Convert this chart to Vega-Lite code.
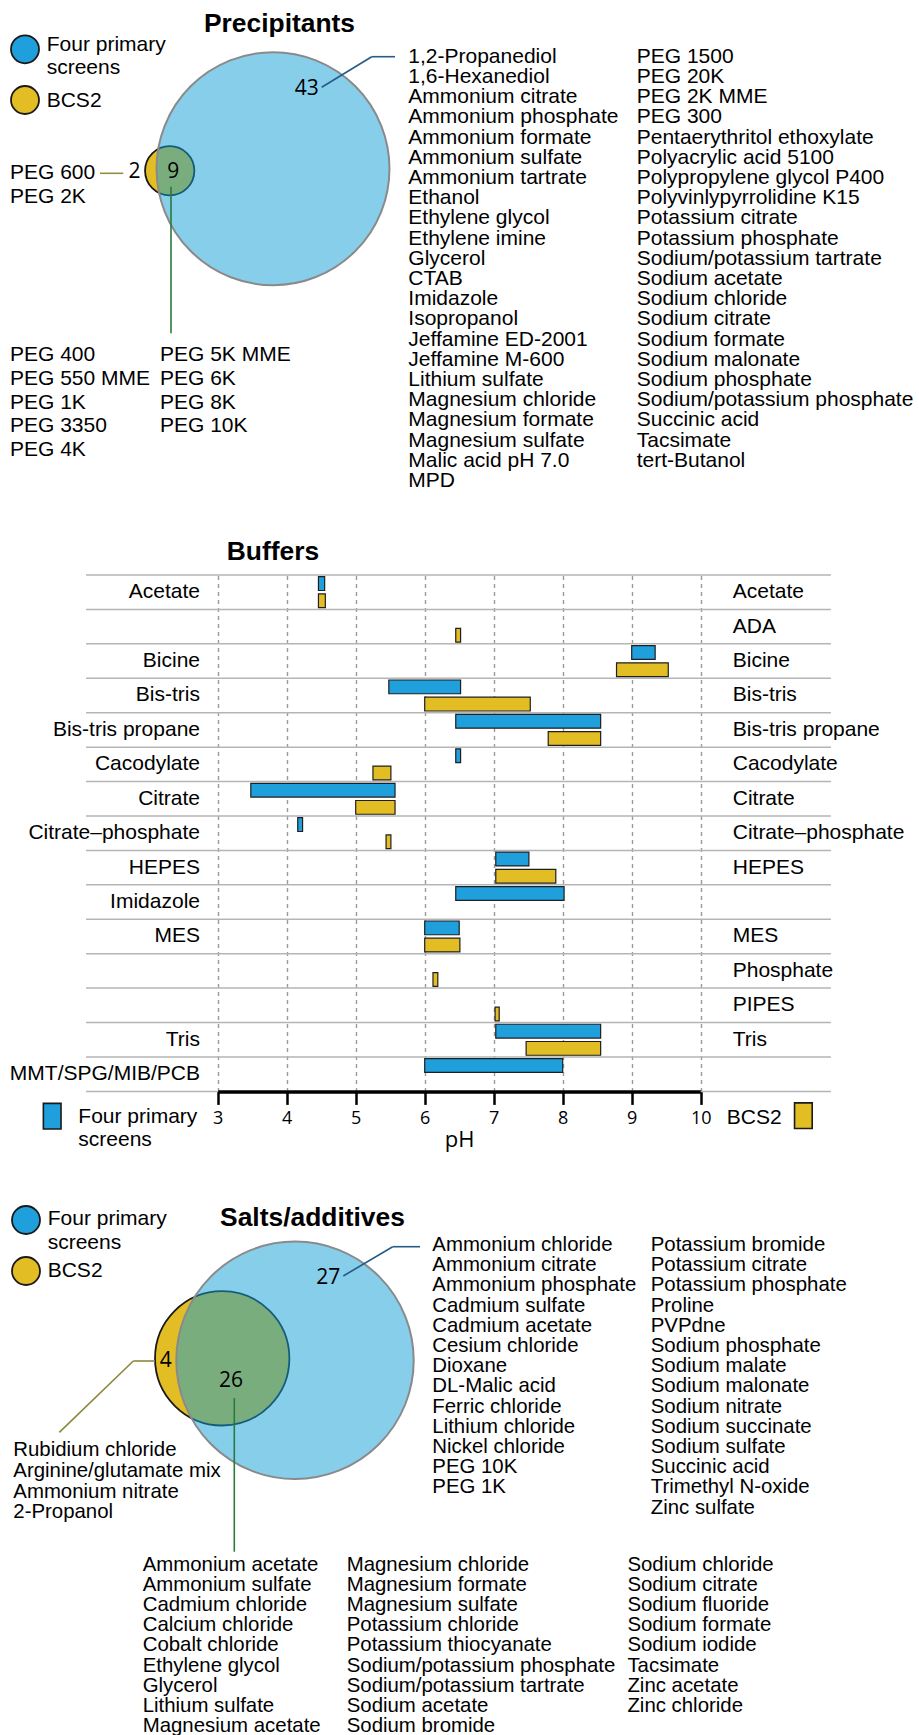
{
  "$schema": "https://vega.github.io/schema/vega-lite/v6.json",
  "padding": 0,
  "spacing": 0,
  "background": "white",
  "config": {"view": {"stroke": null}, "font": "Liberation Sans"},
  "datasets": {
    "sets": [{"set": "Four primary screens"}, {"set": "BCS2"}],
    "precip": [
      {"item": "1,2-Propanediol", "region": "four"}, {"item": "1,6-Hexanediol", "region": "four"}, {"item": "Ammonium citrate", "region": "four"}, {"item": "Ammonium phosphate", "region": "four"}, {"item": "Ammonium formate", "region": "four"}, {"item": "Ammonium sulfate", "region": "four"}, {"item": "Ammonium tartrate", "region": "four"}, {"item": "Ethanol", "region": "four"}, {"item": "Ethylene glycol", "region": "four"}, {"item": "Ethylene imine", "region": "four"}, {"item": "Glycerol", "region": "four"}, {"item": "CTAB", "region": "four"}, {"item": "Imidazole", "region": "four"}, {"item": "Isopropanol", "region": "four"}, {"item": "Jeffamine ED-2001", "region": "four"}, {"item": "Jeffamine M-600", "region": "four"}, {"item": "Lithium sulfate", "region": "four"}, {"item": "Magnesium chloride", "region": "four"}, {"item": "Magnesium formate", "region": "four"}, {"item": "Magnesium sulfate", "region": "four"}, {"item": "Malic acid pH 7.0", "region": "four"}, {"item": "MPD", "region": "four"},
      {"item": "PEG 1500", "region": "four"}, {"item": "PEG 20K", "region": "four"}, {"item": "PEG 2K MME", "region": "four"}, {"item": "PEG 300", "region": "four"}, {"item": "Pentaerythritol ethoxylate", "region": "four"}, {"item": "Polyacrylic acid 5100", "region": "four"}, {"item": "Polypropylene glycol P400", "region": "four"}, {"item": "Polyvinlypyrrolidine K15", "region": "four"}, {"item": "Potassium citrate", "region": "four"}, {"item": "Potassium phosphate", "region": "four"}, {"item": "Sodium/potassium tartrate", "region": "four"}, {"item": "Sodium acetate", "region": "four"}, {"item": "Sodium chloride", "region": "four"}, {"item": "Sodium citrate", "region": "four"}, {"item": "Sodium formate", "region": "four"}, {"item": "Sodium malonate", "region": "four"}, {"item": "Sodium phosphate", "region": "four"}, {"item": "Sodium/potassium phosphate", "region": "four"}, {"item": "Succinic acid", "region": "four"}, {"item": "Tacsimate", "region": "four"}, {"item": "tert-Butanol", "region": "four"},
      {"item": "PEG 400", "region": "both"}, {"item": "PEG 550 MME", "region": "both"}, {"item": "PEG 1K", "region": "both"}, {"item": "PEG 3350", "region": "both"}, {"item": "PEG 4K", "region": "both"}, {"item": "PEG 5K MME", "region": "both"}, {"item": "PEG 6K", "region": "both"}, {"item": "PEG 8K", "region": "both"}, {"item": "PEG 10K", "region": "both"},
      {"item": "PEG 600", "region": "bcs2"}, {"item": "PEG 2K", "region": "bcs2"}
    ],
    "salts": [
      {"item": "Ammonium chloride", "region": "four"}, {"item": "Ammonium citrate", "region": "four"}, {"item": "Ammonium phosphate", "region": "four"}, {"item": "Cadmium sulfate", "region": "four"}, {"item": "Cadmium acetate", "region": "four"}, {"item": "Cesium chloride", "region": "four"}, {"item": "Dioxane", "region": "four"}, {"item": "DL-Malic acid", "region": "four"}, {"item": "Ferric chloride", "region": "four"}, {"item": "Lithium chloride", "region": "four"}, {"item": "Nickel chloride", "region": "four"}, {"item": "PEG 10K", "region": "four"}, {"item": "PEG 1K", "region": "four"},
      {"item": "Potassium bromide", "region": "four"}, {"item": "Potassium citrate", "region": "four"}, {"item": "Potassium phosphate", "region": "four"}, {"item": "Proline", "region": "four"}, {"item": "PVPdne", "region": "four"}, {"item": "Sodium phosphate", "region": "four"}, {"item": "Sodium malate", "region": "four"}, {"item": "Sodium malonate", "region": "four"}, {"item": "Sodium nitrate", "region": "four"}, {"item": "Sodium succinate", "region": "four"}, {"item": "Sodium sulfate", "region": "four"}, {"item": "Succinic acid", "region": "four"}, {"item": "Trimethyl N-oxide", "region": "four"}, {"item": "Zinc sulfate", "region": "four"},
      {"item": "Ammonium acetate", "region": "both"}, {"item": "Ammonium sulfate", "region": "both"}, {"item": "Cadmium chloride", "region": "both"}, {"item": "Calcium chloride", "region": "both"}, {"item": "Cobalt chloride", "region": "both"}, {"item": "Ethylene glycol", "region": "both"}, {"item": "Glycerol", "region": "both"}, {"item": "Lithium sulfate", "region": "both"}, {"item": "Magnesium acetate", "region": "both"},
      {"item": "Magnesium chloride", "region": "both"}, {"item": "Magnesium formate", "region": "both"}, {"item": "Magnesium sulfate", "region": "both"}, {"item": "Potassium chloride", "region": "both"}, {"item": "Potassium thiocyanate", "region": "both"}, {"item": "Sodium/potassium phosphate", "region": "both"}, {"item": "Sodium/potassium tartrate", "region": "both"}, {"item": "Sodium acetate", "region": "both"}, {"item": "Sodium bromide", "region": "both"},
      {"item": "Sodium chloride", "region": "both"}, {"item": "Sodium citrate", "region": "both"}, {"item": "Sodium fluoride", "region": "both"}, {"item": "Sodium formate", "region": "both"}, {"item": "Sodium iodide", "region": "both"}, {"item": "Tacsimate", "region": "both"}, {"item": "Zinc acetate", "region": "both"}, {"item": "Zinc chloride", "region": "both"},
      {"item": "Rubidium chloride", "region": "bcs2"}, {"item": "Arginine/glutamate mix", "region": "bcs2"}, {"item": "Ammonium nitrate", "region": "bcs2"}, {"item": "2-Propanol", "region": "bcs2"}
    ],
    "buffers": [
      {"buffer": "Acetate", "set": "Four primary screens", "low": 4.46, "high": 4.55},
      {"buffer": "Acetate", "set": "BCS2", "low": 4.46, "high": 4.56},
      {"buffer": "ADA", "set": "BCS2", "low": 6.45, "high": 6.52},
      {"buffer": "Bicine", "set": "Four primary screens", "low": 9.0, "high": 9.34},
      {"buffer": "Bicine", "set": "BCS2", "low": 8.78, "high": 9.53},
      {"buffer": "Bis-tris", "set": "Four primary screens", "low": 5.48, "high": 6.52},
      {"buffer": "Bis-tris", "set": "BCS2", "low": 6.0, "high": 7.53},
      {"buffer": "Bis-tris propane", "set": "Four primary screens", "low": 6.45, "high": 8.55},
      {"buffer": "Bis-tris propane", "set": "BCS2", "low": 7.79, "high": 8.55},
      {"buffer": "Cacodylate", "set": "Four primary screens", "low": 6.45, "high": 6.52},
      {"buffer": "Cacodylate", "set": "BCS2", "low": 5.25, "high": 5.51},
      {"buffer": "Citrate", "set": "Four primary screens", "low": 3.48, "high": 5.57},
      {"buffer": "Citrate", "set": "BCS2", "low": 5.0, "high": 5.57},
      {"buffer": "Citrate–phosphate", "set": "Four primary screens", "low": 4.16, "high": 4.23},
      {"buffer": "Citrate–phosphate", "set": "BCS2", "low": 5.44, "high": 5.51},
      {"buffer": "HEPES", "set": "Four primary screens", "low": 7.03, "high": 7.51},
      {"buffer": "HEPES", "set": "BCS2", "low": 7.03, "high": 7.9},
      {"buffer": "Imidazole", "set": "Four primary screens", "low": 6.45, "high": 8.02},
      {"buffer": "MES", "set": "Four primary screens", "low": 6.0, "high": 6.5},
      {"buffer": "MES", "set": "BCS2", "low": 6.0, "high": 6.51},
      {"buffer": "Phosphate", "set": "BCS2", "low": 6.12, "high": 6.19},
      {"buffer": "PIPES", "set": "BCS2", "low": 7.02, "high": 7.08},
      {"buffer": "Tris", "set": "Four primary screens", "low": 7.03, "high": 8.55},
      {"buffer": "Tris", "set": "BCS2", "low": 7.47, "high": 8.55},
      {"buffer": "MMT/SPG/MIB/PCB", "set": "Four primary screens", "low": 6.0, "high": 8.0}
    ]
  },
  "vconcat": [
    {
      "width": 919, "height": 538,
      "data": {"name": "precip"},
      "resolve": {"scale": {"yOffset": "independent"}},
      "layer": [
        {"data": {"values": [{}]},
         "mark": {"type": "text", "align": "center", "baseline": "middle", "fontSize": 26.4, "fontWeight": "bold", "text": "Precipitants"},
         "encoding": {
           "x": {"datum": 279.5, "type": "quantitative", "scale": {"domain": [0, 919], "nice": false, "zero": false}, "axis": null},
           "y": {"datum": 24, "type": "quantitative", "scale": {"domain": [0, 538], "reverse": true, "nice": false, "zero": false}, "axis": null}}},
        {"transform": [{"filter": "datum.region != 'four'"}, {"aggregate": [{"op": "count", "as": "count"}]}],
         "mark": {"type": "point", "shape": "circle", "filled": true, "opacity": 1, "fill": "#E3BD24", "stroke": "#1a1a1a", "strokeWidth": 1.8},
         "encoding": {
           "x": {"datum": 169.7, "type": "quantitative", "scale": {"domain": [0, 919], "nice": false, "zero": false}, "axis": null},
           "y": {"datum": 170.8, "type": "quantitative", "scale": {"domain": [0, 538], "reverse": true, "nice": false, "zero": false}, "axis": null},
           "size": {"field": "count", "type": "quantitative", "scale": {"type": "pow", "exponent": 2, "domain": [0, 52], "range": [0, 56360]}, "legend": null}}},
        {"transform": [{"filter": "datum.region != 'bcs2'"}, {"aggregate": [{"op": "count", "as": "count"}]}],
         "mark": {"type": "point", "shape": "circle", "filled": true, "opacity": 1, "fill": "#0F9DD7", "fillOpacity": 0.5, "stroke": "#8a8a8a", "strokeOpacity": 1, "strokeWidth": 2},
         "encoding": {
           "x": {"datum": 273, "type": "quantitative", "scale": {"domain": [0, 919], "nice": false, "zero": false}, "axis": null},
           "y": {"datum": 168.7, "type": "quantitative", "scale": {"domain": [0, 538], "reverse": true, "nice": false, "zero": false}, "axis": null},
           "size": {"field": "count", "type": "quantitative", "scale": {"type": "pow", "exponent": 2, "domain": [0, 52], "range": [0, 56360]}, "legend": null}}},
        {"transform": [{"filter": "datum.region == 'four'"}, {"aggregate": [{"op": "count", "as": "count"}]}],
         "mark": {"type": "text", "font": "Open Sans", "fontSize": 21, "align": "center", "baseline": "middle"},
         "encoding": {"text": {"field": "count", "type": "quantitative"},
           "x": {"datum": 306.7, "type": "quantitative", "scale": {"domain": [0, 919], "nice": false, "zero": false}, "axis": null},
           "y": {"datum": 89.3, "type": "quantitative", "scale": {"domain": [0, 538], "reverse": true, "nice": false, "zero": false}, "axis": null}}},
        {"transform": [{"filter": "datum.region == 'both'"}, {"aggregate": [{"op": "count", "as": "count"}]}],
         "mark": {"type": "text", "font": "Open Sans", "fontSize": 21, "align": "center", "baseline": "middle"},
         "encoding": {"text": {"field": "count", "type": "quantitative"},
           "x": {"datum": 173.3, "type": "quantitative", "scale": {"domain": [0, 919], "nice": false, "zero": false}, "axis": null},
           "y": {"datum": 171.7, "type": "quantitative", "scale": {"domain": [0, 538], "reverse": true, "nice": false, "zero": false}, "axis": null}}},
        {"transform": [{"filter": "datum.region == 'bcs2'"}, {"aggregate": [{"op": "count", "as": "count"}]}],
         "mark": {"type": "text", "font": "Open Sans", "fontSize": 21, "align": "center", "baseline": "middle"},
         "encoding": {"text": {"field": "count", "type": "quantitative"},
           "x": {"datum": 134.5, "type": "quantitative", "scale": {"domain": [0, 919], "nice": false, "zero": false}, "axis": null},
           "y": {"datum": 171.7, "type": "quantitative", "scale": {"domain": [0, 538], "reverse": true, "nice": false, "zero": false}, "axis": null}}},
        {"data": {"values": [{}]}, "mark": {"type": "rule", "color": "#245B87", "strokeWidth": 1.6},
         "encoding": {
           "x": {"datum": 321.7, "type": "quantitative", "scale": {"domain": [0, 919], "nice": false, "zero": false}, "axis": null},
           "y": {"datum": 87.3, "type": "quantitative", "scale": {"domain": [0, 538], "reverse": true, "nice": false, "zero": false}, "axis": null},
           "x2": {"datum": 371.7}, "y2": {"datum": 56.7}}},
        {"data": {"values": [{}]}, "mark": {"type": "rule", "color": "#245B87", "strokeWidth": 1.6},
         "encoding": {
           "x": {"datum": 371.7, "type": "quantitative", "scale": {"domain": [0, 919], "nice": false, "zero": false}, "axis": null},
           "y": {"datum": 56.7, "type": "quantitative", "scale": {"domain": [0, 538], "reverse": true, "nice": false, "zero": false}, "axis": null},
           "x2": {"datum": 395}}},
        {"data": {"values": [{}]}, "mark": {"type": "rule", "color": "#9A8C3E", "strokeWidth": 1.6},
         "encoding": {
           "x": {"datum": 100, "type": "quantitative", "scale": {"domain": [0, 919], "nice": false, "zero": false}, "axis": null},
           "y": {"datum": 173.3, "type": "quantitative", "scale": {"domain": [0, 538], "reverse": true, "nice": false, "zero": false}, "axis": null},
           "x2": {"datum": 123.3}}},
        {"data": {"values": [{}]}, "mark": {"type": "rule", "color": "#2B7A3C", "strokeWidth": 1.6},
         "encoding": {
           "x": {"datum": 171, "type": "quantitative", "scale": {"domain": [0, 919], "nice": false, "zero": false}, "axis": null},
           "y": {"datum": 186.7, "type": "quantitative", "scale": {"domain": [0, 538], "reverse": true, "nice": false, "zero": false}, "axis": null},
           "y2": {"datum": 333.3}}},
        {"transform": [{"filter": "datum.region == 'four'"}, {"window": [{"op": "row_number", "as": "n"}]}, {"filter": "datum.n <= 22"}],
         "mark": {"type": "text", "align": "left", "baseline": "middle", "fontSize": 21},
         "encoding": {"text": {"field": "item"},
           "x": {"datum": 408.3, "type": "quantitative", "scale": {"domain": [0, 919], "nice": false, "zero": false}, "axis": null},
           "y": {"datum": 56.7, "type": "quantitative", "scale": {"domain": [0, 538], "reverse": true, "nice": false, "zero": false}, "axis": null},
           "yOffset": {"field": "n", "type": "quantitative", "scale": {"domain": [1, 2], "range": [0, 20.2], "nice": false, "zero": false}}}},
        {"transform": [{"filter": "datum.region == 'four'"}, {"window": [{"op": "row_number", "as": "n"}]}, {"filter": "datum.n > 22"}],
         "mark": {"type": "text", "align": "left", "baseline": "middle", "fontSize": 21},
         "encoding": {"text": {"field": "item"},
           "x": {"datum": 636.7, "type": "quantitative", "scale": {"domain": [0, 919], "nice": false, "zero": false}, "axis": null},
           "y": {"datum": 56.7, "type": "quantitative", "scale": {"domain": [0, 538], "reverse": true, "nice": false, "zero": false}, "axis": null},
           "yOffset": {"field": "n", "type": "quantitative", "scale": {"domain": [23, 24], "range": [0, 20.2], "nice": false, "zero": false}}}},
        {"transform": [{"filter": "datum.region == 'both'"}, {"window": [{"op": "row_number", "as": "n"}]}, {"filter": "datum.n <= 5"}],
         "mark": {"type": "text", "align": "left", "baseline": "middle", "fontSize": 21},
         "encoding": {"text": {"field": "item"},
           "x": {"datum": 10, "type": "quantitative", "scale": {"domain": [0, 919], "nice": false, "zero": false}, "axis": null},
           "y": {"datum": 355, "type": "quantitative", "scale": {"domain": [0, 538], "reverse": true, "nice": false, "zero": false}, "axis": null},
           "yOffset": {"field": "n", "type": "quantitative", "scale": {"domain": [1, 2], "range": [0, 23.75], "nice": false, "zero": false}}}},
        {"transform": [{"filter": "datum.region == 'both'"}, {"window": [{"op": "row_number", "as": "n"}]}, {"filter": "datum.n > 5"}],
         "mark": {"type": "text", "align": "left", "baseline": "middle", "fontSize": 21},
         "encoding": {"text": {"field": "item"},
           "x": {"datum": 160, "type": "quantitative", "scale": {"domain": [0, 919], "nice": false, "zero": false}, "axis": null},
           "y": {"datum": 355, "type": "quantitative", "scale": {"domain": [0, 538], "reverse": true, "nice": false, "zero": false}, "axis": null},
           "yOffset": {"field": "n", "type": "quantitative", "scale": {"domain": [6, 7], "range": [0, 23.75], "nice": false, "zero": false}}}},
        {"transform": [{"filter": "datum.region == 'bcs2'"}, {"window": [{"op": "row_number", "as": "n"}]}],
         "mark": {"type": "text", "align": "left", "baseline": "middle", "fontSize": 21},
         "encoding": {"text": {"field": "item"},
           "x": {"datum": 10, "type": "quantitative", "scale": {"domain": [0, 919], "nice": false, "zero": false}, "axis": null},
           "y": {"datum": 173.3, "type": "quantitative", "scale": {"domain": [0, 538], "reverse": true, "nice": false, "zero": false}, "axis": null},
           "yOffset": {"field": "n", "type": "quantitative", "scale": {"domain": [1, 2], "range": [0, 23.3], "nice": false, "zero": false}}}},
        {"data": {"name": "sets"}, "transform": [{"filter": "datum.set == 'Four primary screens'"}],
         "mark": {"type": "point", "shape": "circle", "filled": true, "opacity": 1, "size": 784, "fill": "#1F9FDB", "stroke": "#1a1a1a", "strokeWidth": 1.8},
         "encoding": {
           "x": {"datum": 25, "type": "quantitative", "scale": {"domain": [0, 919], "nice": false, "zero": false}, "axis": null},
           "y": {"datum": 49.3, "type": "quantitative", "scale": {"domain": [0, 538], "reverse": true, "nice": false, "zero": false}, "axis": null}}},
        {"data": {"name": "sets"}, "transform": [{"filter": "datum.set == 'BCS2'"}],
         "mark": {"type": "point", "shape": "circle", "filled": true, "opacity": 1, "size": 784, "fill": "#E3BD24", "stroke": "#1a1a1a", "strokeWidth": 1.8},
         "encoding": {
           "x": {"datum": 25, "type": "quantitative", "scale": {"domain": [0, 919], "nice": false, "zero": false}, "axis": null},
           "y": {"datum": 100, "type": "quantitative", "scale": {"domain": [0, 538], "reverse": true, "nice": false, "zero": false}, "axis": null}}},
        {"data": {"name": "sets"}, "transform": [{"filter": "datum.set == 'Four primary screens'"}],
         "mark": {"type": "text", "align": "left", "baseline": "middle", "fontSize": 21, "lineHeight": 23.3, "lineBreak": {"expr": "regexp(' (?=screens)')"}},
         "encoding": {"text": {"field": "set"},
           "x": {"datum": 46.7, "type": "quantitative", "scale": {"domain": [0, 919], "nice": false, "zero": false}, "axis": null},
           "y": {"datum": 45, "type": "quantitative", "scale": {"domain": [0, 538], "reverse": true, "nice": false, "zero": false}, "axis": null}}},
        {"data": {"name": "sets"}, "transform": [{"filter": "datum.set == 'BCS2'"}],
         "mark": {"type": "text", "align": "left", "baseline": "middle", "fontSize": 21},
         "encoding": {"text": {"field": "set"},
           "x": {"datum": 46.7, "type": "quantitative", "scale": {"domain": [0, 919], "nice": false, "zero": false}, "axis": null},
           "y": {"datum": 100.7, "type": "quantitative", "scale": {"domain": [0, 538], "reverse": true, "nice": false, "zero": false}, "axis": null}}}
      ]
    },
    {
      "width": 919, "height": 516.4,
      "data": {"name": "buffers"},
      "layer": [
        {"data": {"values": [{}]},
         "mark": {"type": "text", "align": "center", "baseline": "middle", "fontSize": 26.4, "fontWeight": "bold", "text": "Buffers"},
         "encoding": {
           "x": {"datum": 3.8014, "type": "quantitative", "scale": {"domain": [3, 10], "range": [217.7, 700.7], "nice": false, "zero": false},
                 "axis": {"values": [3, 4, 5, 6, 7, 8, 9, 10], "format": "d", "domainColor": "black", "domainWidth": 3.5, "tickColor": "black", "tickWidth": 2.5, "tickSize": 13, "labelFont": "Open Sans", "labelFontSize": 18, "labelColor": "black", "labelPadding": 5, "labelFlush": false, "title": "pH", "titleFont": "Open Sans", "titleFontSize": 22, "titleFontWeight": "normal", "titleColor": "black", "titlePadding": 2, "grid": true, "gridDash": [4, 4], "gridColor": "#9a9a9a", "gridWidth": 1.4}},
           "y": {"value": -23.3}}},
        {"transform": [{"aggregate": [{"op": "count", "as": "k"}], "groupby": ["buffer"]}],
         "mark": {"type": "rule", "color": "#b5b5b5", "strokeWidth": 1.5},
         "encoding": {
           "y": {"field": "buffer", "type": "nominal", "bandPosition": 0, "scale": {"type": "band", "domain": ["Acetate", "ADA", "Bicine", "Bis-tris", "Bis-tris propane", "Cacodylate", "Citrate", "Citrate–phosphate", "HEPES", "Imidazole", "MES", "Phosphate", "PIPES", "Tris", "MMT/SPG/MIB/PCB"], "paddingInner": 0, "paddingOuter": 0}, "axis": null},
           "x": {"datum": 1.0913, "type": "quantitative", "scale": {"domain": [3, 10], "range": [217.7, 700.7], "nice": false, "zero": false},
                 "axis": {"values": [3, 4, 5, 6, 7, 8, 9, 10], "format": "d", "domainColor": "black", "domainWidth": 3.5, "tickColor": "black", "tickWidth": 2.5, "tickSize": 13, "labelFont": "Open Sans", "labelFontSize": 18, "labelColor": "black", "labelPadding": 5, "labelFlush": false, "title": "pH", "titleFont": "Open Sans", "titleFontSize": 22, "titleFontWeight": "normal", "titleColor": "black", "titlePadding": 2, "grid": true, "gridDash": [4, 4], "gridColor": "#9a9a9a", "gridWidth": 1.4}},
           "x2": {"datum": 11.887}}},
        {"transform": [{"filter": "datum.buffer == 'MMT/SPG/MIB/PCB'"}],
         "mark": {"type": "rule", "color": "#b5b5b5", "strokeWidth": 1.5},
         "encoding": {
           "y": {"field": "buffer", "type": "nominal", "bandPosition": 1, "scale": {"type": "band", "domain": ["Acetate", "ADA", "Bicine", "Bis-tris", "Bis-tris propane", "Cacodylate", "Citrate", "Citrate–phosphate", "HEPES", "Imidazole", "MES", "Phosphate", "PIPES", "Tris", "MMT/SPG/MIB/PCB"], "paddingInner": 0, "paddingOuter": 0}, "axis": null},
           "x": {"datum": 1.0913, "type": "quantitative", "scale": {"domain": [3, 10], "range": [217.7, 700.7], "nice": false, "zero": false},
                 "axis": {"values": [3, 4, 5, 6, 7, 8, 9, 10], "format": "d", "domainColor": "black", "domainWidth": 3.5, "tickColor": "black", "tickWidth": 2.5, "tickSize": 13, "labelFont": "Open Sans", "labelFontSize": 18, "labelColor": "black", "labelPadding": 5, "labelFlush": false, "title": "pH", "titleFont": "Open Sans", "titleFontSize": 22, "titleFontWeight": "normal", "titleColor": "black", "titlePadding": 2, "grid": true, "gridDash": [4, 4], "gridColor": "#9a9a9a", "gridWidth": 1.4}},
           "x2": {"datum": 3}}},
        {"transform": [{"filter": "datum.buffer == 'MMT/SPG/MIB/PCB'"}],
         "mark": {"type": "rule", "color": "#b5b5b5", "strokeWidth": 1.5},
         "encoding": {
           "y": {"field": "buffer", "type": "nominal", "bandPosition": 1, "scale": {"type": "band", "domain": ["Acetate", "ADA", "Bicine", "Bis-tris", "Bis-tris propane", "Cacodylate", "Citrate", "Citrate–phosphate", "HEPES", "Imidazole", "MES", "Phosphate", "PIPES", "Tris", "MMT/SPG/MIB/PCB"], "paddingInner": 0, "paddingOuter": 0}, "axis": null},
           "x": {"datum": 10, "type": "quantitative", "scale": {"domain": [3, 10], "range": [217.7, 700.7], "nice": false, "zero": false},
                 "axis": {"values": [3, 4, 5, 6, 7, 8, 9, 10], "format": "d", "domainColor": "black", "domainWidth": 3.5, "tickColor": "black", "tickWidth": 2.5, "tickSize": 13, "labelFont": "Open Sans", "labelFontSize": 18, "labelColor": "black", "labelPadding": 5, "labelFlush": false, "title": "pH", "titleFont": "Open Sans", "titleFontSize": 22, "titleFontWeight": "normal", "titleColor": "black", "titlePadding": 2, "grid": true, "gridDash": [4, 4], "gridColor": "#9a9a9a", "gridWidth": 1.4}},
           "x2": {"datum": 11.887}}},
        {"mark": {"type": "bar", "stroke": "#1f1f1f", "strokeWidth": 1.2},
         "encoding": {
           "x": {"field": "low", "type": "quantitative", "scale": {"domain": [3, 10], "range": [217.7, 700.7], "nice": false, "zero": false},
                 "axis": {"values": [3, 4, 5, 6, 7, 8, 9, 10], "format": "d", "domainColor": "black", "domainWidth": 3.5, "tickColor": "black", "tickWidth": 2.5, "tickSize": 13, "labelFont": "Open Sans", "labelFontSize": 18, "labelColor": "black", "labelPadding": 5, "labelFlush": false, "title": "pH", "titleFont": "Open Sans", "titleFontSize": 22, "titleFontWeight": "normal", "titleColor": "black", "titlePadding": 2, "grid": true, "gridDash": [4, 4], "gridColor": "#9a9a9a", "gridWidth": 1.4}},
           "x2": {"field": "high"},
           "y": {"field": "buffer", "type": "nominal", "scale": {"type": "band", "domain": ["Acetate", "ADA", "Bicine", "Bis-tris", "Bis-tris propane", "Cacodylate", "Citrate", "Citrate–phosphate", "HEPES", "Imidazole", "MES", "Phosphate", "PIPES", "Tris", "MMT/SPG/MIB/PCB"], "paddingInner": 0, "paddingOuter": 0}, "axis": null},
           "yOffset": {"field": "set", "type": "nominal", "scale": {"domain": ["Four primary screens", "BCS2"], "paddingInner": 0.2, "paddingOuter": 0.1}},
           "color": {"field": "set", "type": "nominal", "scale": {"domain": ["Four primary screens", "BCS2"], "range": ["#1F9FDB", "#E3BD24"]}, "legend": null}}},
        {"transform": [{"filter": "datum.set == 'Four primary screens'"}],
         "mark": {"type": "text", "align": "right", "baseline": "middle", "fontSize": 21},
         "encoding": {"text": {"field": "buffer"},
           "x": {"datum": 2.7435, "type": "quantitative", "scale": {"domain": [3, 10], "range": [217.7, 700.7], "nice": false, "zero": false},
                 "axis": {"values": [3, 4, 5, 6, 7, 8, 9, 10], "format": "d", "domainColor": "black", "domainWidth": 3.5, "tickColor": "black", "tickWidth": 2.5, "tickSize": 13, "labelFont": "Open Sans", "labelFontSize": 18, "labelColor": "black", "labelPadding": 5, "labelFlush": false, "title": "pH", "titleFont": "Open Sans", "titleFontSize": 22, "titleFontWeight": "normal", "titleColor": "black", "titlePadding": 2, "grid": true, "gridDash": [4, 4], "gridColor": "#9a9a9a", "gridWidth": 1.4}},
           "y": {"field": "buffer", "type": "nominal", "scale": {"type": "band", "domain": ["Acetate", "ADA", "Bicine", "Bis-tris", "Bis-tris propane", "Cacodylate", "Citrate", "Citrate–phosphate", "HEPES", "Imidazole", "MES", "Phosphate", "PIPES", "Tris", "MMT/SPG/MIB/PCB"], "paddingInner": 0, "paddingOuter": 0}, "axis": null}}},
        {"transform": [{"filter": "datum.set == 'BCS2'"}],
         "mark": {"type": "text", "align": "left", "baseline": "middle", "fontSize": 21},
         "encoding": {"text": {"field": "buffer"},
           "x": {"datum": 10.464, "type": "quantitative", "scale": {"domain": [3, 10], "range": [217.7, 700.7], "nice": false, "zero": false},
                 "axis": {"values": [3, 4, 5, 6, 7, 8, 9, 10], "format": "d", "domainColor": "black", "domainWidth": 3.5, "tickColor": "black", "tickWidth": 2.5, "tickSize": 13, "labelFont": "Open Sans", "labelFontSize": 18, "labelColor": "black", "labelPadding": 5, "labelFlush": false, "title": "pH", "titleFont": "Open Sans", "titleFontSize": 22, "titleFontWeight": "normal", "titleColor": "black", "titlePadding": 2, "grid": true, "gridDash": [4, 4], "gridColor": "#9a9a9a", "gridWidth": 1.4}},
           "y": {"field": "buffer", "type": "nominal", "scale": {"type": "band", "domain": ["Acetate", "ADA", "Bicine", "Bis-tris", "Bis-tris propane", "Cacodylate", "Citrate", "Citrate–phosphate", "HEPES", "Imidazole", "MES", "Phosphate", "PIPES", "Tris", "MMT/SPG/MIB/PCB"], "paddingInner": 0, "paddingOuter": 0}, "axis": null}}},
        {"data": {"name": "sets"}, "transform": [{"filter": "datum.set == 'Four primary screens'"}],
         "mark": {"type": "point", "shape": "M-0.69,-1H0.69V1H-0.69Z", "filled": true, "opacity": 1, "size": 655, "fill": "#1F9FDB", "stroke": "#1a1a1a", "strokeWidth": 1.6},
         "encoding": {
           "x": {"datum": 0.6014, "type": "quantitative", "scale": {"domain": [3, 10], "range": [217.7, 700.7], "nice": false, "zero": false},
                 "axis": {"values": [3, 4, 5, 6, 7, 8, 9, 10], "format": "d", "domainColor": "black", "domainWidth": 3.5, "tickColor": "black", "tickWidth": 2.5, "tickSize": 13, "labelFont": "Open Sans", "labelFontSize": 18, "labelColor": "black", "labelPadding": 5, "labelFlush": false, "title": "pH", "titleFont": "Open Sans", "titleFontSize": 22, "titleFontWeight": "normal", "titleColor": "black", "titlePadding": 2, "grid": true, "gridDash": [4, 4], "gridColor": "#9a9a9a", "gridWidth": 1.4}},
           "y": {"value": 541.2}}},
        {"data": {"name": "sets"}, "transform": [{"filter": "datum.set == 'BCS2'"}],
         "mark": {"type": "point", "shape": "M-0.69,-1H0.69V1H-0.69Z", "filled": true, "opacity": 1, "size": 655, "fill": "#E3BD24", "stroke": "#1a1a1a", "strokeWidth": 1.6},
         "encoding": {
           "x": {"datum": 11.488, "type": "quantitative", "scale": {"domain": [3, 10], "range": [217.7, 700.7], "nice": false, "zero": false},
                 "axis": {"values": [3, 4, 5, 6, 7, 8, 9, 10], "format": "d", "domainColor": "black", "domainWidth": 3.5, "tickColor": "black", "tickWidth": 2.5, "tickSize": 13, "labelFont": "Open Sans", "labelFontSize": 18, "labelColor": "black", "labelPadding": 5, "labelFlush": false, "title": "pH", "titleFont": "Open Sans", "titleFontSize": 22, "titleFontWeight": "normal", "titleColor": "black", "titlePadding": 2, "grid": true, "gridDash": [4, 4], "gridColor": "#9a9a9a", "gridWidth": 1.4}},
           "y": {"value": 540.7}}},
        {"data": {"name": "sets"}, "transform": [{"filter": "datum.set == 'Four primary screens'"}],
         "mark": {"type": "text", "align": "left", "baseline": "middle", "fontSize": 21, "lineHeight": 23.3, "lineBreak": {"expr": "regexp(' (?=screens)')"}},
         "encoding": {"text": {"field": "set"},
           "x": {"datum": 0.98, "type": "quantitative", "scale": {"domain": [3, 10], "range": [217.7, 700.7], "nice": false, "zero": false},
                 "axis": {"values": [3, 4, 5, 6, 7, 8, 9, 10], "format": "d", "domainColor": "black", "domainWidth": 3.5, "tickColor": "black", "tickWidth": 2.5, "tickSize": 13, "labelFont": "Open Sans", "labelFontSize": 18, "labelColor": "black", "labelPadding": 5, "labelFlush": false, "title": "pH", "titleFont": "Open Sans", "titleFontSize": 22, "titleFontWeight": "normal", "titleColor": "black", "titlePadding": 2, "grid": true, "gridDash": [4, 4], "gridColor": "#9a9a9a", "gridWidth": 1.4}},
           "y": {"value": 541.7}}},
        {"data": {"name": "sets"}, "transform": [{"filter": "datum.set == 'BCS2'"}],
         "mark": {"type": "text", "align": "left", "baseline": "middle", "fontSize": 21},
         "encoding": {"text": {"field": "set"},
           "x": {"datum": 10.377, "type": "quantitative", "scale": {"domain": [3, 10], "range": [217.7, 700.7], "nice": false, "zero": false},
                 "axis": {"values": [3, 4, 5, 6, 7, 8, 9, 10], "format": "d", "domainColor": "black", "domainWidth": 3.5, "tickColor": "black", "tickWidth": 2.5, "tickSize": 13, "labelFont": "Open Sans", "labelFontSize": 18, "labelColor": "black", "labelPadding": 5, "labelFlush": false, "title": "pH", "titleFont": "Open Sans", "titleFontSize": 22, "titleFontWeight": "normal", "titleColor": "black", "titlePadding": 2, "grid": true, "gridDash": [4, 4], "gridColor": "#9a9a9a", "gridWidth": 1.4}},
           "y": {"value": 542.7}}}
      ]
    },
    {
      "width": 919, "height": 583,
      "data": {"name": "salts"},
      "resolve": {"scale": {"yOffset": "independent"}},
      "layer": [
        {"data": {"values": [{}]},
         "mark": {"type": "text", "align": "center", "baseline": "middle", "fontSize": 26.4, "fontWeight": "bold", "text": "Salts/additives"},
         "encoding": {
           "x": {"datum": 312.5, "type": "quantitative", "scale": {"domain": [0, 919], "nice": false, "zero": false}, "axis": null},
           "y": {"datum": 1218, "type": "quantitative", "scale": {"domain": [1151, 1734], "reverse": true, "nice": false, "zero": false}, "axis": null}}},
        {"transform": [{"filter": "datum.region != 'four'"}, {"aggregate": [{"op": "count", "as": "count"}]}],
         "mark": {"type": "point", "shape": "circle", "filled": true, "opacity": 1, "fill": "#E3BD24", "stroke": "#1a1a1a", "strokeWidth": 1.8},
         "encoding": {
           "x": {"datum": 222.2, "type": "quantitative", "scale": {"domain": [0, 919], "nice": false, "zero": false}, "axis": null},
           "y": {"datum": 1358.3, "type": "quantitative", "scale": {"domain": [1151, 1734], "reverse": true, "nice": false, "zero": false}, "axis": null},
           "size": {"field": "count", "type": "quantitative", "scale": {"type": "pow", "exponent": 2, "domain": [0, 53], "range": [0, 57600]}, "legend": null}}},
        {"transform": [{"filter": "datum.region != 'bcs2'"}, {"aggregate": [{"op": "count", "as": "count"}]}],
         "mark": {"type": "point", "shape": "circle", "filled": true, "opacity": 1, "fill": "#0F9DD7", "fillOpacity": 0.5, "stroke": "#8a8a8a", "strokeOpacity": 1, "strokeWidth": 2},
         "encoding": {
           "x": {"datum": 295, "type": "quantitative", "scale": {"domain": [0, 919], "nice": false, "zero": false}, "axis": null},
           "y": {"datum": 1360.3, "type": "quantitative", "scale": {"domain": [1151, 1734], "reverse": true, "nice": false, "zero": false}, "axis": null},
           "size": {"field": "count", "type": "quantitative", "scale": {"type": "pow", "exponent": 2, "domain": [0, 53], "range": [0, 57600]}, "legend": null}}},
        {"transform": [{"filter": "datum.region == 'four'"}, {"aggregate": [{"op": "count", "as": "count"}]}],
         "mark": {"type": "text", "font": "Open Sans", "fontSize": 21, "align": "center", "baseline": "middle"},
         "encoding": {"text": {"field": "count", "type": "quantitative"},
           "x": {"datum": 328.3, "type": "quantitative", "scale": {"domain": [0, 919], "nice": false, "zero": false}, "axis": null},
           "y": {"datum": 1278.3, "type": "quantitative", "scale": {"domain": [1151, 1734], "reverse": true, "nice": false, "zero": false}, "axis": null}}},
        {"transform": [{"filter": "datum.region == 'both'"}, {"aggregate": [{"op": "count", "as": "count"}]}],
         "mark": {"type": "text", "font": "Open Sans", "fontSize": 21, "align": "center", "baseline": "middle"},
         "encoding": {"text": {"field": "count", "type": "quantitative"},
           "x": {"datum": 231, "type": "quantitative", "scale": {"domain": [0, 919], "nice": false, "zero": false}, "axis": null},
           "y": {"datum": 1380.7, "type": "quantitative", "scale": {"domain": [1151, 1734], "reverse": true, "nice": false, "zero": false}, "axis": null}}},
        {"transform": [{"filter": "datum.region == 'bcs2'"}, {"aggregate": [{"op": "count", "as": "count"}]}],
         "mark": {"type": "text", "font": "Open Sans", "fontSize": 21, "align": "center", "baseline": "middle"},
         "encoding": {"text": {"field": "count", "type": "quantitative"},
           "x": {"datum": 165.7, "type": "quantitative", "scale": {"domain": [0, 919], "nice": false, "zero": false}, "axis": null},
           "y": {"datum": 1361, "type": "quantitative", "scale": {"domain": [1151, 1734], "reverse": true, "nice": false, "zero": false}, "axis": null}}},
        {"data": {"values": [{}]}, "mark": {"type": "rule", "color": "#245B87", "strokeWidth": 1.6},
         "encoding": {
           "x": {"datum": 343.3, "type": "quantitative", "scale": {"domain": [0, 919], "nice": false, "zero": false}, "axis": null},
           "y": {"datum": 1276, "type": "quantitative", "scale": {"domain": [1151, 1734], "reverse": true, "nice": false, "zero": false}, "axis": null},
           "x2": {"datum": 392.7}, "y2": {"datum": 1246.7}}},
        {"data": {"values": [{}]}, "mark": {"type": "rule", "color": "#245B87", "strokeWidth": 1.6},
         "encoding": {
           "x": {"datum": 392.7, "type": "quantitative", "scale": {"domain": [0, 919], "nice": false, "zero": false}, "axis": null},
           "y": {"datum": 1246.7, "type": "quantitative", "scale": {"domain": [1151, 1734], "reverse": true, "nice": false, "zero": false}, "axis": null},
           "x2": {"datum": 420}}},
        {"data": {"values": [{}]}, "mark": {"type": "rule", "color": "#8E873C", "strokeWidth": 1.6},
         "encoding": {
           "x": {"datum": 155, "type": "quantitative", "scale": {"domain": [0, 919], "nice": false, "zero": false}, "axis": null},
           "y": {"datum": 1361, "type": "quantitative", "scale": {"domain": [1151, 1734], "reverse": true, "nice": false, "zero": false}, "axis": null},
           "x2": {"datum": 133.3}}},
        {"data": {"values": [{}]}, "mark": {"type": "rule", "color": "#8E873C", "strokeWidth": 1.6},
         "encoding": {
           "x": {"datum": 133.3, "type": "quantitative", "scale": {"domain": [0, 919], "nice": false, "zero": false}, "axis": null},
           "y": {"datum": 1361, "type": "quantitative", "scale": {"domain": [1151, 1734], "reverse": true, "nice": false, "zero": false}, "axis": null},
           "x2": {"datum": 59.3}, "y2": {"datum": 1432.3}}},
        {"data": {"values": [{}]}, "mark": {"type": "rule", "color": "#2B7A3C", "strokeWidth": 1.6},
         "encoding": {
           "x": {"datum": 234.3, "type": "quantitative", "scale": {"domain": [0, 919], "nice": false, "zero": false}, "axis": null},
           "y": {"datum": 1398, "type": "quantitative", "scale": {"domain": [1151, 1734], "reverse": true, "nice": false, "zero": false}, "axis": null},
           "y2": {"datum": 1551.7}}},
        {"transform": [{"filter": "datum.region == 'four'"}, {"window": [{"op": "row_number", "as": "n"}]}, {"filter": "datum.n <= 13"}],
         "mark": {"type": "text", "align": "left", "baseline": "middle", "fontSize": 20.4},
         "encoding": {"text": {"field": "item"},
           "x": {"datum": 432.3, "type": "quantitative", "scale": {"domain": [0, 919], "nice": false, "zero": false}, "axis": null},
           "y": {"datum": 1245, "type": "quantitative", "scale": {"domain": [1151, 1734], "reverse": true, "nice": false, "zero": false}, "axis": null},
           "yOffset": {"field": "n", "type": "quantitative", "scale": {"domain": [1, 2], "range": [0, 20.2], "nice": false, "zero": false}}}},
        {"transform": [{"filter": "datum.region == 'four'"}, {"window": [{"op": "row_number", "as": "n"}]}, {"filter": "datum.n > 13"}],
         "mark": {"type": "text", "align": "left", "baseline": "middle", "fontSize": 20.4},
         "encoding": {"text": {"field": "item"},
           "x": {"datum": 650.7, "type": "quantitative", "scale": {"domain": [0, 919], "nice": false, "zero": false}, "axis": null},
           "y": {"datum": 1245, "type": "quantitative", "scale": {"domain": [1151, 1734], "reverse": true, "nice": false, "zero": false}, "axis": null},
           "yOffset": {"field": "n", "type": "quantitative", "scale": {"domain": [14, 15], "range": [0, 20.2], "nice": false, "zero": false}}}},
        {"transform": [{"filter": "datum.region == 'both'"}, {"window": [{"op": "row_number", "as": "n"}]}, {"filter": "datum.n <= 9"}],
         "mark": {"type": "text", "align": "left", "baseline": "middle", "fontSize": 20.4},
         "encoding": {"text": {"field": "item"},
           "x": {"datum": 142.7, "type": "quantitative", "scale": {"domain": [0, 919], "nice": false, "zero": false}, "axis": null},
           "y": {"datum": 1565, "type": "quantitative", "scale": {"domain": [1151, 1734], "reverse": true, "nice": false, "zero": false}, "axis": null},
           "yOffset": {"field": "n", "type": "quantitative", "scale": {"domain": [1, 2], "range": [0, 20.1], "nice": false, "zero": false}}}},
        {"transform": [{"filter": "datum.region == 'both'"}, {"window": [{"op": "row_number", "as": "n"}]}, {"filter": "datum.n > 9 && datum.n <= 18"}],
         "mark": {"type": "text", "align": "left", "baseline": "middle", "fontSize": 20.4},
         "encoding": {"text": {"field": "item"},
           "x": {"datum": 346.7, "type": "quantitative", "scale": {"domain": [0, 919], "nice": false, "zero": false}, "axis": null},
           "y": {"datum": 1565, "type": "quantitative", "scale": {"domain": [1151, 1734], "reverse": true, "nice": false, "zero": false}, "axis": null},
           "yOffset": {"field": "n", "type": "quantitative", "scale": {"domain": [10, 11], "range": [0, 20.1], "nice": false, "zero": false}}}},
        {"transform": [{"filter": "datum.region == 'both'"}, {"window": [{"op": "row_number", "as": "n"}]}, {"filter": "datum.n > 18"}],
         "mark": {"type": "text", "align": "left", "baseline": "middle", "fontSize": 20.4},
         "encoding": {"text": {"field": "item"},
           "x": {"datum": 627.4, "type": "quantitative", "scale": {"domain": [0, 919], "nice": false, "zero": false}, "axis": null},
           "y": {"datum": 1565, "type": "quantitative", "scale": {"domain": [1151, 1734], "reverse": true, "nice": false, "zero": false}, "axis": null},
           "yOffset": {"field": "n", "type": "quantitative", "scale": {"domain": [19, 20], "range": [0, 20.1], "nice": false, "zero": false}}}},
        {"transform": [{"filter": "datum.region == 'bcs2'"}, {"window": [{"op": "row_number", "as": "n"}]}],
         "mark": {"type": "text", "align": "left", "baseline": "middle", "fontSize": 20.4},
         "encoding": {"text": {"field": "item"},
           "x": {"datum": 13.3, "type": "quantitative", "scale": {"domain": [0, 919], "nice": false, "zero": false}, "axis": null},
           "y": {"datum": 1450, "type": "quantitative", "scale": {"domain": [1151, 1734], "reverse": true, "nice": false, "zero": false}, "axis": null},
           "yOffset": {"field": "n", "type": "quantitative", "scale": {"domain": [1, 2], "range": [0, 20.8], "nice": false, "zero": false}}}},
        {"data": {"name": "sets"}, "transform": [{"filter": "datum.set == 'Four primary screens'"}],
         "mark": {"type": "point", "shape": "circle", "filled": true, "opacity": 1, "size": 784, "fill": "#1F9FDB", "stroke": "#1a1a1a", "strokeWidth": 1.8},
         "encoding": {
           "x": {"datum": 26, "type": "quantitative", "scale": {"domain": [0, 919], "nice": false, "zero": false}, "axis": null},
           "y": {"datum": 1220, "type": "quantitative", "scale": {"domain": [1151, 1734], "reverse": true, "nice": false, "zero": false}, "axis": null}}},
        {"data": {"name": "sets"}, "transform": [{"filter": "datum.set == 'BCS2'"}],
         "mark": {"type": "point", "shape": "circle", "filled": true, "opacity": 1, "size": 784, "fill": "#E3BD24", "stroke": "#1a1a1a", "strokeWidth": 1.8},
         "encoding": {
           "x": {"datum": 26, "type": "quantitative", "scale": {"domain": [0, 919], "nice": false, "zero": false}, "axis": null},
           "y": {"datum": 1271, "type": "quantitative", "scale": {"domain": [1151, 1734], "reverse": true, "nice": false, "zero": false}, "axis": null}}},
        {"data": {"name": "sets"}, "transform": [{"filter": "datum.set == 'Four primary screens'"}],
         "mark": {"type": "text", "align": "left", "baseline": "middle", "fontSize": 21, "lineHeight": 23.3, "lineBreak": {"expr": "regexp(' (?=screens)')"}},
         "encoding": {"text": {"field": "set"},
           "x": {"datum": 47.7, "type": "quantitative", "scale": {"domain": [0, 919], "nice": false, "zero": false}, "axis": null},
           "y": {"datum": 1219.3, "type": "quantitative", "scale": {"domain": [1151, 1734], "reverse": true, "nice": false, "zero": false}, "axis": null}}},
        {"data": {"name": "sets"}, "transform": [{"filter": "datum.set == 'BCS2'"}],
         "mark": {"type": "text", "align": "left", "baseline": "middle", "fontSize": 21},
         "encoding": {"text": {"field": "set"},
           "x": {"datum": 47.7, "type": "quantitative", "scale": {"domain": [0, 919], "nice": false, "zero": false}, "axis": null},
           "y": {"datum": 1271, "type": "quantitative", "scale": {"domain": [1151, 1734], "reverse": true, "nice": false, "zero": false}, "axis": null}}}
      ]
    }
  ]
}
